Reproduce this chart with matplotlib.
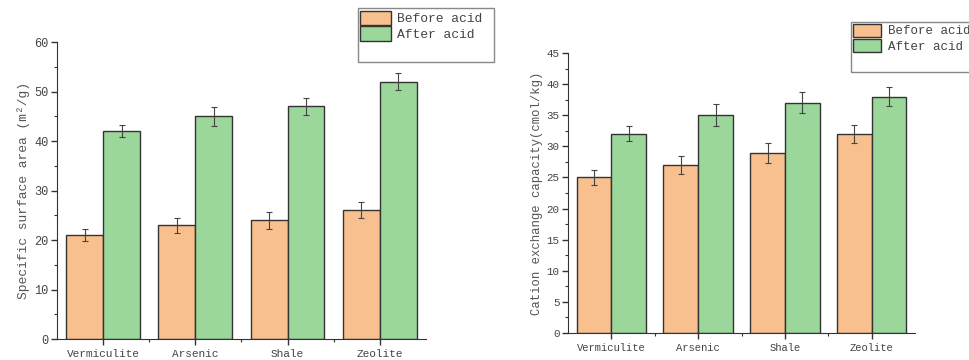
import matplotlib.pyplot as plt
import numpy as np
from matplotlib.patches import Rectangle

# data
categories = ['Vermiculite', 'Arsenic', 'Shale', 'Zeolite']
ssa_before = [21, 23, 24, 26]
ssa_before_err = [1.2, 1.5, 1.7, 1.6]
ssa_after = [42, 45, 47, 52]
ssa_after_err = [1.2, 1.9, 1.7, 1.7]
cec_before = [25, 27, 29, 32]
cec_before_err = [1.2, 1.4, 1.6, 1.5]
cec_after = [32, 35, 37, 38]
cec_after_err = [1.2, 1.8, 1.7, 1.5]

c_before = '#F8C08F'
c_after = '#9BD69B'
font = 'Liberation Mono'
txt_col = '#444444'

fig = plt.figure(figsize=(9.69, 3.6), dpi=100)
ax1 = fig.add_axes([0.0588, 0.0583, 0.3808, 0.825])
ax2 = fig.add_axes([0.5862, 0.075, 0.3581, 0.7778])


def draw(ax, before, berr, after, aerr, ymax, ystep, ylabel, xt_fs, yt_fs, label_fs):
    x = np.arange(len(categories))
    w = 0.4
    eb = dict(ecolor='#444444', elinewidth=0.8, capsize=2.5, capthick=0.8)
    ax.bar(x - w / 2, before, w, yerr=berr, color=c_before, edgecolor='#333333',
           linewidth=1, error_kw=eb, label='Before acid')
    ax.bar(x + w / 2, after, w, yerr=aerr, color=c_after, edgecolor='#333333',
           linewidth=1, error_kw=eb, label='After acid')
    ax.set_xlim(-0.5, 3.5)
    ax.set_ylim(0, ymax)
    ax.set_yticks(np.arange(0, ymax + 0.1, ystep))
    ax.set_yticks(np.arange(ystep / 2, ymax, ystep), minor=True)
    ax.set_xticks(x)
    ax.set_xticks([0.5, 1.5, 2.5], minor=True)
    ax.set_xticklabels(categories, fontfamily=font, fontsize=xt_fs, color=txt_col)
    for t in ax.get_yticklabels():
        t.set_fontfamily(font)
        t.set_fontsize(yt_fs)
        t.set_color(txt_col)
    ax.spines['top'].set_visible(False)
    ax.spines['right'].set_visible(False)
    ax.spines['left'].set_color('#333333')
    ax.spines['bottom'].set_color('#333333')
    ax.tick_params(axis='both', which='major', direction='out', length=4, width=1, color='#333333')
    ax.tick_params(axis='both', which='minor', direction='out', length=2.5, width=0.8, color='#333333')
    ax.tick_params(axis='x', pad=3)
    ax.tick_params(axis='y', pad=2)
    ax.set_ylabel(ylabel, fontfamily=font, fontsize=label_fs, color='#555555', labelpad=3)


draw(ax1, ssa_before, ssa_before_err, ssa_after, ssa_after_err, 60, 10,
     'Specific surface area (m²/g)', 8.0, 8.6, 9.4)
draw(ax2, cec_before, cec_before_err, cec_after, cec_after_err, 45, 5,
     'Cation exchange capacity(cmol/kg)', 7.6, 7.8, 8.8)

# legends with wide framed boxes
fig.patches.append(Rectangle((358 / 969, 1 - 62 / 360), 136 / 969, 54 / 360,
                             transform=fig.transFigure, fill=False,
                             edgecolor='#888888', linewidth=1))
fig.patches.append(Rectangle((851 / 969, 1 - 72 / 360), 140 / 969, 50 / 360,
                             transform=fig.transFigure, fill=False,
                             edgecolor='#888888', linewidth=1))

h, l = ax1.get_legend_handles_labels()
fig.legend(h, l, loc='upper left', bbox_to_anchor=(357 / 969, 1 - 8 / 360),
           frameon=False, prop={'family': font, 'size': 9.4}, labelcolor=txt_col,
           handlelength=2.4, handleheight=1.3, handletextpad=0.5,
           labelspacing=0.1, borderpad=0.2, borderaxespad=0)
h, l = ax2.get_legend_handles_labels()
fig.legend(h, l, loc='upper left', bbox_to_anchor=(850 / 969, 1 - 21 / 360),
           frameon=False, prop={'family': font, 'size': 9.0}, labelcolor=txt_col,
           handlelength=2.3, handleheight=1.3, handletextpad=0.5,
           labelspacing=0.1, borderpad=0.2, borderaxespad=0)

fig.savefig('out.png', dpi=100)
